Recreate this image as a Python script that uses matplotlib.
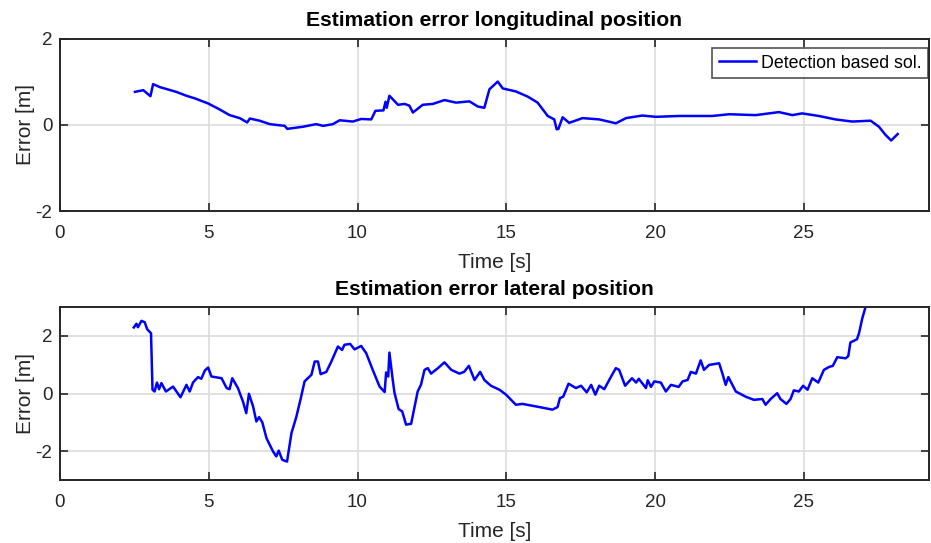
import matplotlib
matplotlib.use("Agg")
import matplotlib.pyplot as plt

# longitudinal error (time [s], error [m])
lon_points = [
    (2.52, 0.77), (2.80, 0.81), (3.04, 0.67), (3.13, 0.95), (3.36, 0.88),
    (3.91, 0.77), (4.25, 0.68), (4.53, 0.62), (4.98, 0.50), (5.37, 0.36),
    (5.70, 0.23), (6.04, 0.16), (6.29, 0.06), (6.38, 0.15), (6.71, 0.10),
    (7.05, 0.02), (7.55, -0.02), (7.64, -0.09), (8.17, -0.04), (8.61, 0.02),
    (8.84, -0.02), (9.17, 0.02), (9.40, 0.11), (9.84, 0.08), (10.12, 0.14),
    (10.46, 0.13), (10.60, 0.33), (10.87, 0.34), (10.94, 0.54), (10.98, 0.40),
    (11.07, 0.68), (11.36, 0.47), (11.58, 0.49), (11.74, 0.45), (11.86, 0.29),
    (12.19, 0.47), (12.53, 0.49), (12.92, 0.58), (13.31, 0.52), (13.76, 0.55),
    (14.04, 0.43), (14.26, 0.40), (14.43, 0.83), (14.71, 1.01), (14.88, 0.85),
    (15.32, 0.78), (15.72, 0.66), (16.05, 0.52), (16.39, 0.21), (16.61, 0.13),
    (16.69, -0.10), (16.75, -0.09), (16.89, 0.18), (17.11, 0.05), (17.56, 0.16),
    (18.12, 0.13), (18.68, 0.04), (19.02, 0.16), (19.57, 0.22), (20.02, 0.19),
    (20.81, 0.21), (21.92, 0.21), (22.48, 0.25), (23.38, 0.23), (24.16, 0.30),
    (24.61, 0.23), (24.94, 0.27), (25.50, 0.21), (26.06, 0.13), (26.62, 0.08),
    (27.24, 0.10), (27.52, -0.04), (27.74, -0.23), (27.93, -0.36), (28.15, -0.21),
]

# lateral error (time [s], error [m])
lat_points = [
    (2.48, 2.29), (2.57, 2.42), (2.62, 2.30), (2.74, 2.52), (2.85, 2.47),
    (2.93, 2.23), (3.06, 2.09), (3.11, 0.13), (3.18, 0.07), (3.26, 0.38),
    (3.33, 0.15), (3.41, 0.36), (3.56, 0.07), (3.80, 0.24), (4.05, -0.13),
    (4.25, 0.30), (4.36, 0.07), (4.47, 0.38), (4.64, 0.57), (4.75, 0.51),
    (4.87, 0.80), (4.98, 0.90), (5.09, 0.59), (5.43, 0.53), (5.60, 0.19),
    (5.70, 0.15), (5.79, 0.53), (5.98, 0.19), (6.15, -0.28), (6.26, -0.68),
    (6.35, -0.01), (6.49, -0.45), (6.60, -0.97), (6.69, -0.82), (6.80, -1.00),
    (6.94, -1.55), (7.16, -2.01), (7.27, -2.18), (7.35, -1.98), (7.47, -2.30),
    (7.63, -2.36), (7.78, -1.37), (7.94, -0.82), (8.08, -0.22), (8.22, 0.42),
    (8.45, 0.65), (8.56, 1.11), (8.67, 1.11), (8.76, 0.67), (8.95, 0.75),
    (9.12, 1.11), (9.34, 1.63), (9.48, 1.51), (9.56, 1.69), (9.75, 1.72),
    (9.90, 1.53), (10.12, 1.65), (10.29, 1.40), (10.51, 0.82), (10.74, 0.24),
    (10.91, 0.05), (10.96, 0.73), (11.03, 0.59), (11.07, 1.42), (11.18, 0.49),
    (11.24, 0.03), (11.38, -0.54), (11.50, -0.62), (11.63, -1.08), (11.80, -1.05),
    (12.02, 0.07), (12.13, 0.30), (12.25, 0.82), (12.36, 0.88), (12.47, 0.69),
    (12.70, 0.88), (12.92, 1.08), (13.15, 0.82), (13.42, 0.69), (13.58, 0.75),
    (13.74, 0.96), (13.93, 0.47), (14.12, 0.75), (14.26, 0.47), (14.48, 0.27),
    (14.77, 0.13), (14.99, -0.04), (15.32, -0.39), (15.54, -0.36), (16.11, -0.47),
    (16.55, -0.56), (16.72, -0.47), (16.80, -0.16), (16.91, -0.11), (17.09, 0.34),
    (17.34, 0.19), (17.51, 0.27), (17.70, 0.04), (17.85, 0.30), (17.99, -0.04),
    (18.12, 0.27), (18.29, 0.15), (18.51, 0.57), (18.68, 0.88), (18.79, 0.82),
    (18.99, 0.27), (19.22, 0.53), (19.36, 0.38), (19.45, 0.51), (19.69, 0.19),
    (19.75, 0.46), (19.86, 0.23), (19.97, 0.42), (20.19, 0.38), (20.36, 0.07),
    (20.53, 0.30), (20.79, 0.23), (20.92, 0.42), (21.09, 0.47), (21.20, 0.75),
    (21.37, 0.69), (21.53, 1.15), (21.64, 0.82), (21.81, 0.99), (22.15, 1.05),
    (22.26, 0.69), (22.37, 0.30), (22.46, 0.57), (22.71, 0.07), (23.04, -0.11),
    (23.32, -0.22), (23.60, -0.19), (23.71, -0.39), (23.88, -0.19), (24.10, 0.01),
    (24.21, -0.19), (24.41, -0.36), (24.55, -0.19), (24.66, 0.11), (24.83, 0.07),
    (24.97, 0.27), (25.12, 0.13), (25.28, 0.53), (25.48, 0.38), (25.67, 0.82),
    (25.84, 0.92), (25.97, 0.96), (26.12, 1.26), (26.40, 1.22), (26.49, 1.30),
    (26.56, 1.77), (26.78, 1.88), (26.85, 2.09), (26.96, 2.61), (27.07, 3.00),
    (27.15, 3.30),
]

x_ticks = [0, 5, 10, 15, 20, 25]
titles = ["Estimation error longitudinal position", "Estimation error lateral position"]
legend_label = "Detection based sol."

plt.rcParams['font.family'] = ['Liberation Sans', 'DejaVu Sans']
plt.rcParams['axes.unicode_minus'] = False
DARK = '#262626'

fig = plt.figure(figsize=(9.31, 5.43), dpi=100)
ax1 = fig.add_axes([0.0644, 0.6114, 0.9334, 0.3168])
ax2 = fig.add_axes([0.0644, 0.116, 0.9334, 0.3186])


def style(ax, title, ylim, yticks):
    ax.set_xlim(0, 29.2)
    ax.set_ylim(*ylim)
    ax.set_xticks(x_ticks)
    ax.set_yticks(yticks)
    ax.grid(True, color='#dedede', linewidth=1.3)
    ax.set_axisbelow(True)
    ax.tick_params(direction='in', length=6, width=1.2, colors=DARK,
                   labelsize=13.5, top=True, right=True)
    ax.tick_params(axis='x', pad=10)
    ax.tick_params(axis='y', pad=5.5)
    for s in ax.spines.values():
        s.set_color(DARK)
        s.set_linewidth(1.4)
    ax.set_xlabel("Time [s]", fontsize=15, color=DARK, labelpad=8)
    ax.set_ylabel("Error [m]", fontsize=15, color=DARK, labelpad=0)
    ax.set_title(title, fontsize=15.2, fontweight='bold', pad=9)


t, e = zip(*lon_points)
ax1.plot(t, e, color='#0000ff', linewidth=1.8, label=legend_label)
style(ax1, titles[0], (-2, 2), [-2, 0, 2])
leg = ax1.legend(loc='upper right', bbox_to_anchor=(0.999, 0.945), borderaxespad=0,
                 fontsize=12.8, frameon=True, fancybox=False, handlelength=2.1,
                 handletextpad=0.3, borderpad=0.35)
leg.get_frame().set_edgecolor(DARK)
leg.get_frame().set_linewidth(1.2)

t, e = zip(*lat_points)
ax2.plot(t, e, color='#0000ff', linewidth=1.8)
style(ax2, titles[1], (-3, 3), [-2, 0, 2])

fig.savefig("out.png", dpi=100)
